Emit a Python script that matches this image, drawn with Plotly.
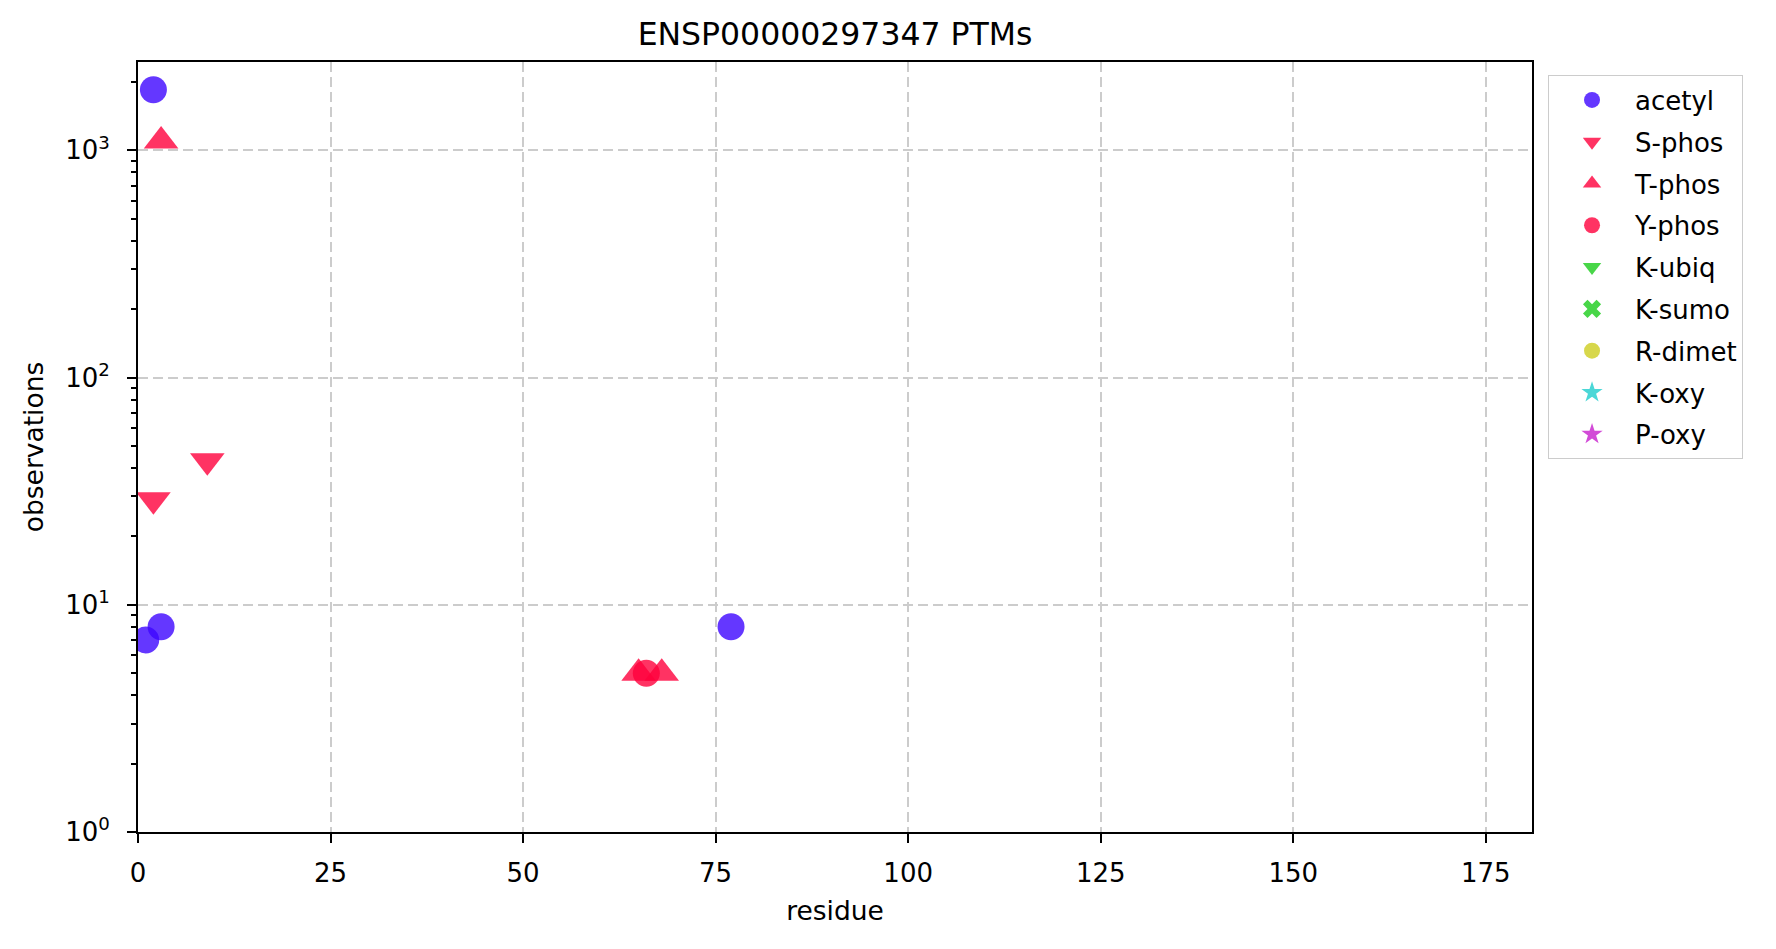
import plotly.graph_objects as go

# ---- data ----
ptm_names = ["acetyl", "S-phos", "T-phos", "Y-phos", "K-ubiq", "K-sumo", "R-dimet", "K-oxy", "P-oxy"]
ptm_symbols = ["circle", "triangle-down", "triangle-up", "circle", "triangle-down", "x", "circle", "star", "star"]
ptm_colors = ["rgb(61,5,255)", "rgb(255,0,60)", "rgb(255,0,60)", "rgb(255,0,60)",
              "rgb(26,204,26)", "rgb(26,204,26)", "rgb(205,205,30)", "rgb(30,205,205)", "rgb(199,30,205)"]

acetyl_res = [2, 1, 3, 77]
acetyl_obs = [1850, 7, 8, 8]
sphos_res = [2, 9]
sphos_obs = [29, 43]
tphos_res = [3, 65, 68]
tphos_obs = [1100, 5, 5]
yphos_res = [66]
yphos_obs = [5]

series_res = [acetyl_res, sphos_res, tphos_res, yphos_res, [], [], [], [], []]
series_obs = [acetyl_obs, sphos_obs, tphos_obs, yphos_obs, [], [], [], [], []]

x_ticks = [0, 25, 50, 75, 100, 125, 150, 175]
y_ticks = [1, 10, 100, 1000]
y_ticktext = ["10<sup>0</sup>", "10<sup>1</sup>", "10<sup>2</sup>", "10<sup>3</sup>"]
y_minor = [m * d for d in (1, 10, 100, 1000) for m in range(2, 10) if m * d < 2500]

FONT = "DejaVu Sans"

fig = go.Figure()
for name, sym, col, xs, ys in zip(ptm_names, ptm_symbols, ptm_colors, series_res, series_obs):
    if sym == "circle":
        size = 27
    elif sym.startswith("triangle"):
        size = 30
    else:
        size = 24
    fig.add_trace(go.Scatter(
        x=xs if xs else [None], y=ys if ys else [None],
        mode="markers", name=name, legendgroup=name,
        marker=dict(symbol=sym, size=size, color=col, opacity=0.8, line=dict(width=0)),
    ))

# page has an 8px body margin, so the figure is drawn 8px smaller and offset
fig.update_layout(
    width=1760, height=933,
    paper_bgcolor="white", plot_bgcolor="white",
    margin=dict(l=130, r=236, t=54, b=108.5),
    font=dict(family=FONT, size=26, color="black"),
    title=dict(text="ENSP00000297347 PTMs", x=0.5, xref="paper", xanchor="center",
               y=1 - 26 / 933, yanchor="middle", font=dict(size=31.5, family=FONT)),
    showlegend=True,
    legend=dict(x=1.0115, y=0.9825, xanchor="left", yanchor="top",
                bgcolor="white", bordercolor="#cccccc", borderwidth=1,
                font=dict(size=26, family=FONT), tracegroupgap=5, itemwidth=76),
)

fig.update_xaxes(
    range=[0, 181], tickvals=x_ticks, ticks="outside", ticklen=9, tickwidth=2, tickcolor="black",
    showline=True, linecolor="black", linewidth=2, mirror=True,
    showgrid=True, gridcolor="#cccccc", gridwidth=2, griddash="10px,5px",
    zeroline=False, ticklabelstandoff=8,
    title=dict(text="residue", standoff=14, font=dict(size=26.5, family=FONT)),
    tickfont=dict(size=26, family=FONT),
)
fig.update_yaxes(
    type="log", range=[0, 3.389], tickvals=y_ticks, ticktext=y_ticktext,
    ticks="outside", ticklen=9, tickwidth=2, tickcolor="black",
    minor=dict(tickvals=y_minor, ticks="outside", ticklen=5, tickwidth=1.5, tickcolor="black", showgrid=False),
    showline=True, linecolor="black", linewidth=2, mirror=True,
    showgrid=True, gridcolor="#cccccc", gridwidth=2, griddash="10px,5px",
    zeroline=False, ticklabelstandoff=12,
    title=dict(text="observations", standoff=14, font=dict(size=26.5, family=FONT)),
    tickfont=dict(size=26, family=FONT),
)

fig.write_html("out.html")
